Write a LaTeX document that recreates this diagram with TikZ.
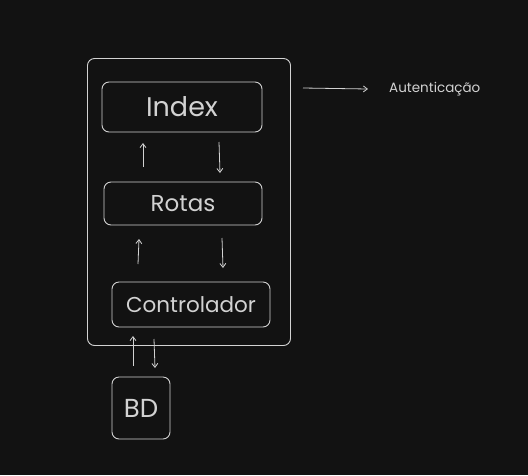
\documentclass[tikz,border=0pt]{standalone}
\usepackage{fontspec}
\setmainfont{Poppins}
\usetikzlibrary{arrows.meta}
\definecolor{fundo}{HTML}{121212}
\definecolor{traco}{HTML}{D2D2D2}
\tikzset{
  caixa/.style={draw=traco, line width=0.9pt, rounded corners=7pt, text=traco, inner sep=0pt},
  seta/.style={draw=traco, line width=0.8pt, -{Straight Barb[length=4pt,width=6pt]}}
}
\begin{document}
\begin{tikzpicture}[x=1pt,y=-1pt]
\fill[fundo] (0,0) rectangle (528,475);
\useasboundingbox (0,0) rectangle (528,475);
% bloco externo
\node[caixa, minimum width=203pt, minimum height=287pt] (app) at (189,202) {};
% caixas internas
\node[caixa, minimum width=160pt, minimum height=50pt, font=\fontsize{27}{30}\selectfont] (index) at (182,107) {Index};
\node[caixa, minimum width=158pt, minimum height=43pt, font=\fontsize{23}{26}\selectfont] (rotas) at (183,203.5) {Rotas};
\node[caixa, minimum width=158pt, minimum height=45pt, font=\fontsize{21.5}{24}\selectfont] (ctrl) at (191,304.5) {Controlador};
\node[caixa, minimum width=58pt, minimum height=62pt, font=\fontsize{26}{30}\selectfont] (bd) at (141,408) {BD};
\node[text=traco, anchor=west, inner xsep=0pt, font=\fontsize{13.5}{16}\selectfont] (auth) at (389,89) {Autenticação};
% pontas das setas
\coordinate (a1) at (143,167); \coordinate (a2) at (143,143);
\coordinate (b1) at (219,142); \coordinate (b2) at (220,173);
\coordinate (c1) at (138,264); \coordinate (c2) at (139,239);
\coordinate (d1) at (222,238); \coordinate (d2) at (223,268);
\coordinate (e1) at (133,366); \coordinate (e2) at (133,336);
\coordinate (f1) at (154,339); \coordinate (f2) at (155,368);
\coordinate (g1) at (303,88);
% setas
\draw[seta] (a1) -- (a2);
\draw[seta] (b1) -- (b2);
\draw[seta] (c1) -- (c2);
\draw[seta] (d1) -- (d2);
\draw[seta] (e1) -- (e2);
\draw[seta] (f1) -- (f2);
\draw[seta] (g1) -- ([xshift=-21pt]auth.west);
\end{tikzpicture}
\end{document}
